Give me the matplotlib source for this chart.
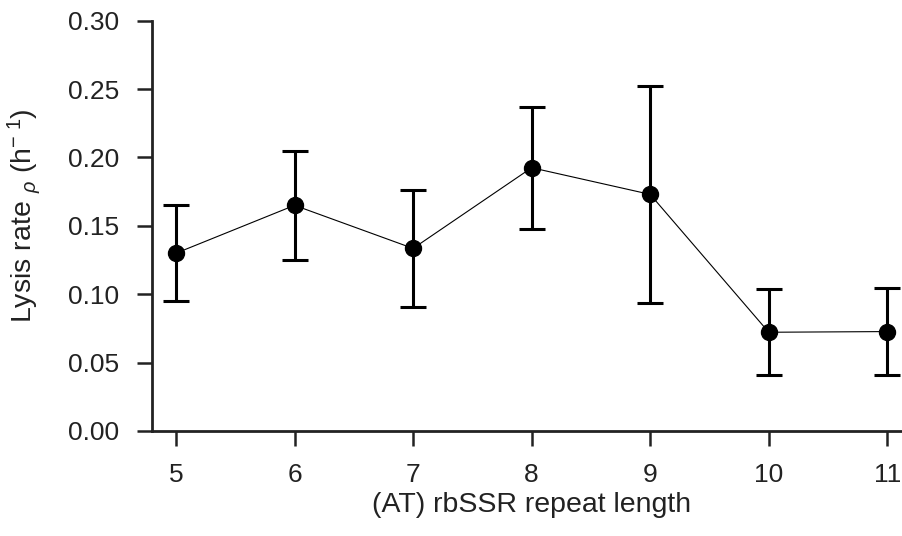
import numpy as np
import matplotlib.pyplot as plt

plt.rcParams['font.family'] = ['Liberation Sans', 'DejaVu Sans']
plt.rcParams['mathtext.fontset'] = 'custom'
plt.rcParams['mathtext.rm'] = 'Liberation Sans'
plt.rcParams['mathtext.it'] = 'Liberation Sans:italic'

# (AT) repeat lengths and measured lysis rates
repeat_length = [5, 6, 7, 8, 9, 10, 11]
lysis_rate = [0.130, 0.165, 0.1335, 0.1925, 0.173, 0.0722, 0.0727]
lysis_err = [0.035, 0.040, 0.0425, 0.0445, 0.0795, 0.0315, 0.0318]

fig = plt.figure(figsize=(9.03, 5.36), dpi=100)
# axes run past the right edge, as in the cropped original
ax = fig.add_axes([152.3 / 903, 1 - 431 / 536, (911 - 152.3) / 903, (431 - 20.7) / 536])

ax.errorbar(repeat_length, lysis_rate, yerr=lysis_err, color='black',
            marker='o', markersize=11.5, linewidth=0.8,
            elinewidth=2.2, capsize=9.5, capthick=2.2, ecolor='black')

ax.set_xlim(4.8, 11.2)
ax.set_ylim(0, 0.30)
ax.set_xticks(repeat_length)
ax.set_yticks(np.arange(0, 0.31, 0.05))
ax.set_yticklabels([f'{v:.2f}' for v in np.arange(0, 0.31, 0.05)])

for side in ['top', 'right']:
    ax.spines[side].set_visible(False)
for side in ['left', 'bottom']:
    ax.spines[side].set_linewidth(2.0)
    ax.spines[side].set_color('#222222')

ax.tick_params(axis='both', length=11, width=1.8, color='#222222',
               labelsize=19, labelcolor='#222222')
ax.tick_params(axis='y', pad=13)
ax.tick_params(axis='x', pad=12)

ax.set_xlabel('(AT) rbSSR repeat length', fontsize=20.5, color='#222222', labelpad=4)
ax.set_ylabel(r'Lysis rate ${}_{\rho}$ (h$^{-\ 1}$)', fontsize=20.5, color='#222222')
ax.yaxis.set_label_coords(-0.144, 0.524)

fig.savefig('out.png', dpi=100)
